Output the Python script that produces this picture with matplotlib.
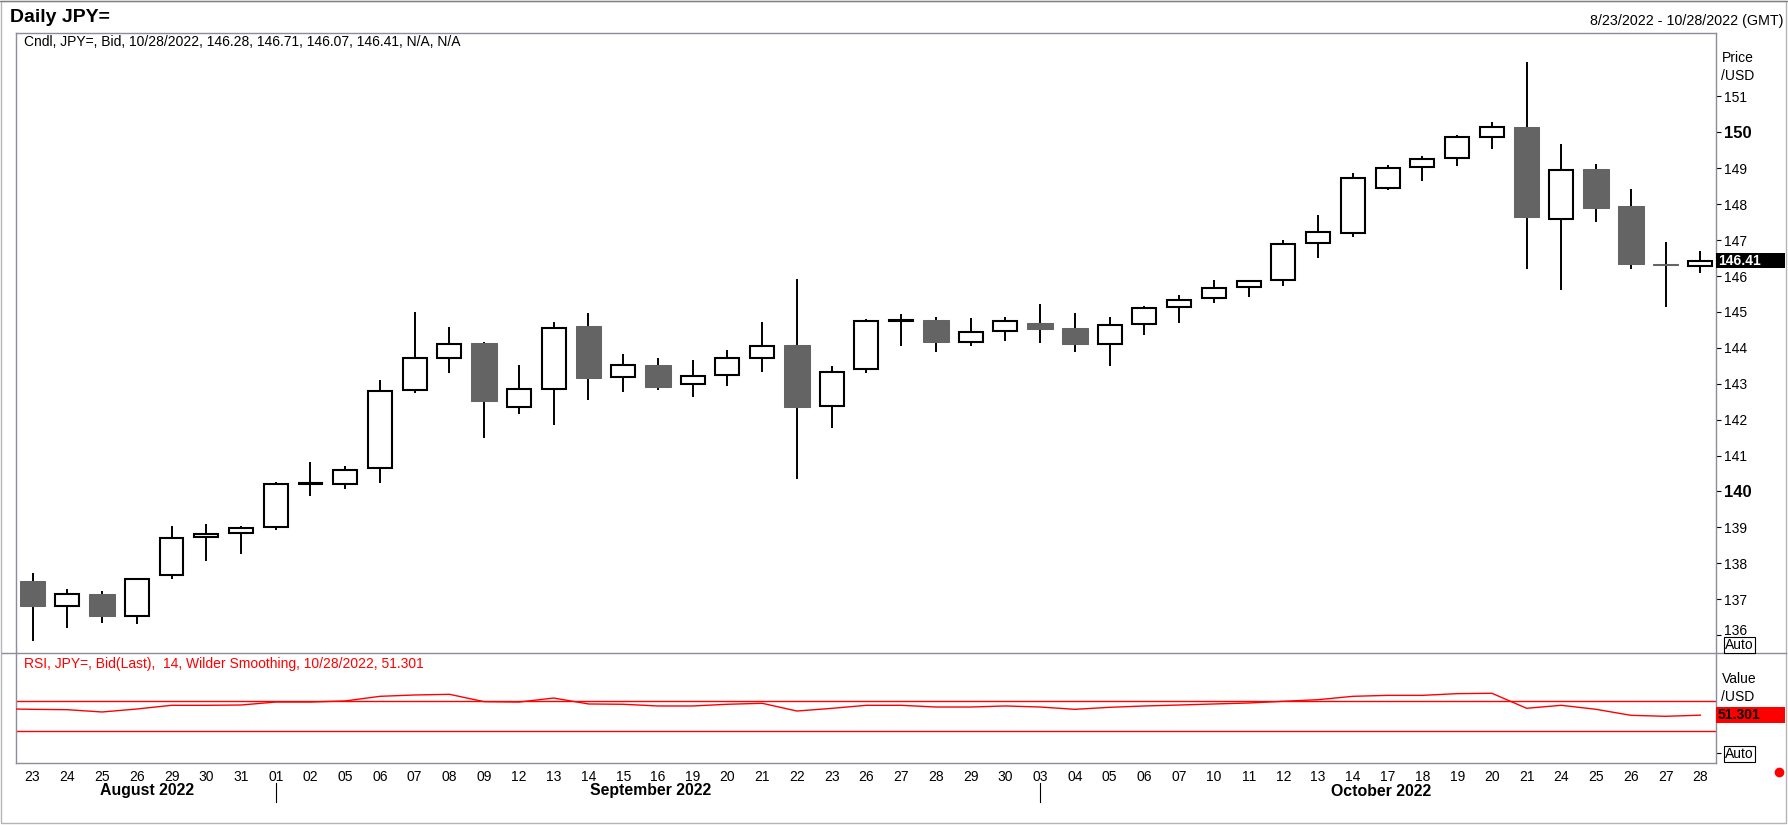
import matplotlib
matplotlib.use('Agg')
import matplotlib.pyplot as plt
from matplotlib.transforms import blended_transform_factory, ScaledTranslation
from matplotlib.lines import Line2D
from matplotlib.patches import Rectangle

plt.rcParams['font.family'] = ['Liberation Sans', 'DejaVu Sans']

W, H = 1788, 825

# ---------------- data ----------------
days = ['23', '24', '25', '26', '29', '30', '31', '01', '02', '05', '06', '07', '08', '09',
        '12', '13', '14', '15', '16', '19', '20', '21', '22', '23', '26', '27', '28', '29',
        '30', '03', '04', '05', '06', '07', '10', '11', '12', '13', '14', '17', '18', '19',
        '20', '21', '24', '25', '26', '27', '28']
months = ['August 2022'] * 7 + ['September 2022'] * 22 + ['October 2022'] * 20

opens = [137.50, 136.80, 137.14, 136.53, 137.66, 138.72, 138.84, 139.00, 140.20, 140.20,
         140.65, 142.82, 143.73, 144.13, 142.35, 142.85, 144.60, 143.18, 143.52, 142.98,
         143.23, 143.73, 144.08, 142.38, 143.41, 144.75, 144.77, 144.15, 144.47, 144.68,
         144.55, 144.12, 144.66, 145.13, 145.38, 145.69, 145.89, 146.91, 147.20, 148.44,
         149.03, 149.28, 149.88, 150.15, 147.58, 148.97, 147.94, 146.33, 146.28]
highs = [137.74, 137.27, 137.24, 137.59, 139.03, 139.09, 139.03, 140.26, 140.82, 140.70,
         143.10, 145.00, 144.58, 144.16, 143.52, 144.72, 144.97, 143.82, 143.71, 143.66,
         143.94, 144.72, 145.91, 143.49, 144.79, 144.93, 144.87, 144.82, 144.85, 145.22,
         144.97, 144.85, 145.16, 145.46, 145.89, 145.90, 147.00, 147.70, 148.86, 149.09,
         149.34, 149.92, 150.28, 151.96, 149.69, 149.12, 148.42, 146.94, 146.71]
lows = [135.84, 136.20, 136.34, 136.31, 137.57, 138.07, 138.25, 138.92, 139.88, 140.07,
        140.24, 142.73, 143.30, 141.49, 142.16, 141.86, 142.55, 142.77, 142.83, 142.64,
        142.94, 143.33, 140.35, 141.77, 143.29, 144.06, 143.89, 144.06, 144.20, 144.14,
        143.89, 143.50, 144.37, 144.70, 145.24, 145.42, 145.73, 146.49, 147.09, 148.39,
        148.65, 149.07, 149.54, 146.20, 145.62, 147.51, 146.20, 145.13, 146.07]
closes = [136.81, 137.15, 136.53, 137.55, 138.71, 138.82, 138.99, 140.22, 140.23, 140.60,
          142.80, 143.72, 144.11, 142.52, 142.84, 144.56, 143.16, 143.53, 142.91, 143.22,
          143.72, 144.06, 142.36, 143.33, 144.75, 144.78, 144.17, 144.45, 144.75, 144.53,
          144.11, 144.64, 145.11, 145.34, 145.67, 145.87, 146.90, 147.23, 148.74, 149.01,
          149.26, 149.88, 150.14, 147.65, 148.96, 147.90, 146.34, 146.30, 146.41]

rsi_prev = 60.0  # value on the session before the first visible day
rsi = [59.2, 58.7, 55.6, 59.6, 64.6, 64.6, 65.0, 69.0, 69.0, 70.5, 76.7, 78.5, 79.4,
       69.5, 69.0, 74.4, 66.4, 66.0, 63.7, 63.7, 66.0, 67.3, 56.9, 60.5, 64.6, 64.6,
       62.3, 62.3, 63.7, 62.3, 59.2, 61.9, 63.7, 65.0, 66.4, 67.7, 70.0, 72.2, 76.7,
       78.0, 78.0, 80.3, 80.8, 60.6, 64.6, 59.2, 51.1, 49.8, 51.301]
rsi_levels = [70, 30]

price_ticks = list(range(136, 152))
bold_ticks = [140, 150]

title = 'Daily JPY='
date_range = '8/23/2022 - 10/28/2022 (GMT)'
header = 'Cndl, JPY=, Bid, 10/28/2022, 146.28, 146.71, 146.07, 146.41, N/A, N/A'
rsi_header = 'RSI, JPY=, Bid(Last),  14, Wilder Smoothing, 10/28/2022, 51.301'

# ---------------- layout helpers ----------------
def fx(px):
    return px / W

def fy(py):
    return 1 - py / H

FRAME = '#8c8c9a'
DARK = '#646464'
RED = '#ff0000'

fig = plt.figure(figsize=(W / 100, H / 100), dpi=100)
fig.patch.set_facecolor('white')

L, R = 15.5, 1716
T_MAIN, B_MAIN, B_RSI = 33.3, 653, 763

ax = fig.add_axes([fx(L), fy(B_MAIN), fx(R) - fx(L), fy(T_MAIN) - fy(B_MAIN)])
ax2 = fig.add_axes([fx(L), fy(B_RSI), fx(R) - fx(L), fy(B_MAIN) - fy(B_RSI)], sharex=ax)

x = list(range(len(days)))

# ---------------- candles ----------------
ax.vlines(x, lows, highs, color='black', linewidth=1.4, zorder=2)
ux = [i for i in x if closes[i] >= opens[i]]
dx = [i for i in x if closes[i] < opens[i]]
ax.bar(ux, [closes[i] - opens[i] for i in ux], bottom=[opens[i] for i in ux],
       width=0.69, color='white', edgecolor='black', linewidth=1.5, zorder=3)
ax.bar(dx, [opens[i] - closes[i] for i in dx], bottom=[closes[i] for i in dx],
       width=0.74, color=DARK, edgecolor=DARK, linewidth=0.75, zorder=3)

ax.set_xlim(-0.49, 48.45)
ax.set_ylim(135.50, 152.76)

ax.yaxis.tick_right()
ax.set_yticks(price_ticks)
ax.set_yticklabels([str(t) for t in price_ticks])
ax.tick_params(axis='y', direction='out', length=3.6, width=0.8, pad=2,
               labelsize=10, colors='black')
for lab, t in zip(ax.get_yticklabels(), price_ticks):
    if t in bold_ticks:
        lab.set_fontweight('bold')
        lab.set_fontsize(12)
    if t == price_ticks[0]:
        # lowest label is nudged up to clear the "Auto" box, as in the original
        lab.set_transform(lab.get_transform() + ScaledTranslation(0, 6 / 100, fig.dpi_scale_trans))
ax.tick_params(axis='x', bottom=False, labelbottom=False)

for s in ['top', 'left', 'right']:
    ax.spines[s].set_color(FRAME)
    ax.spines[s].set_linewidth(1.0)
ax.spines['bottom'].set_visible(False)

# last price marker
last = closes[-1]
bx = blended_transform_factory(fig.transFigure, ax.transData)
ax.add_patch(Rectangle((fx(R), last - 0.19), fx(1785) - fx(R), 0.42, transform=bx,
                       facecolor='black', edgecolor='none', clip_on=False, zorder=5))
ax.text(fx(R + 2), last, f'{last:.2f}', color='white', fontweight='bold',
        fontsize=10, ha='left', va='center', transform=bx, zorder=6)

# ---------------- RSI ----------------
ax2.plot([-1] + x, [rsi_prev] + rsi, color=RED, linewidth=1.0, zorder=3)
for lv in rsi_levels:
    ax2.axhline(lv, color=RED, linewidth=1.0, zorder=2)
ax2.set_ylim(-13.1, 135.05)
ax2.yaxis.tick_right()
ax2.set_yticks([0])
ax2.set_yticklabels([''])
ax2.tick_params(axis='y', direction='out', length=3.6, width=0.8)

ax2.set_xticks(x)
ax2.set_xticklabels(days)
ax2.tick_params(axis='x', length=0, pad=5, labelsize=10, colors='black')
for s in ['bottom', 'left', 'right']:
    ax2.spines[s].set_color(FRAME)
    ax2.spines[s].set_linewidth(1.0)
ax2.spines['top'].set_visible(False)

lr = rsi[-1]
bx2 = blended_transform_factory(fig.transFigure, ax2.transData)
ax2.add_patch(Rectangle((fx(R), lr - 10.5), fx(1785) - fx(R), 21.5, transform=bx2,
                        facecolor=RED, edgecolor='none', clip_on=False, zorder=5))
ax2.text(fx(R + 2), lr, f'{lr:.3f}', color='black', fontweight='bold',
         fontsize=10, ha='left', va='center', transform=bx2, zorder=6)

# month labels and separators
btf = blended_transform_factory(ax2.transData, fig.transFigure)
seen = []
for m in months:
    if m not in seen:
        seen.append(m)
for k, m in enumerate(seen):
    idx = [i for i in x if months[i] == m]
    ax2.text(sum(idx) / len(idx) + 0.3, fy(791), m, transform=btf, ha='center', va='center',
             fontsize=11.4, fontweight='bold', clip_on=False)
    if k > 0:
        fig.add_artist(Line2D([idx[0], idx[0]], [fy(783), fy(802)], transform=btf,
                              color='black', linewidth=0.8))

# ---------------- frame / text ----------------
fig.add_artist(Line2D([fx(2), fx(1786)], [fy(B_MAIN), fy(B_MAIN)], transform=fig.transFigure,
                      color=FRAME, linewidth=1.0))
fig.add_artist(Rectangle((fx(1), fy(822.5)), fx(1785.5) - fx(1), fy(1) - fy(822.5),
                         transform=fig.transFigure, fill=False, edgecolor='#b4b4b4',
                         linewidth=1.0))
fig.add_artist(Line2D([0, 1], [fy(1), fy(1)], transform=fig.transFigure,
                      color='#808080', linewidth=1.0))

fig.text(fx(10.5), fy(17), title, fontsize=14, fontweight='bold', ha='left', va='center')
fig.text(fx(1783), fy(21), date_range, fontsize=10.3, ha='right', va='center')
fig.text(fx(23.5), fy(42.5), header, fontsize=10, ha='left', va='center')
fig.text(fx(23.5), fy(664), rsi_header, fontsize=10, ha='left', va='center', color=RED)

fig.text(fx(1722), fy(58), 'Price', fontsize=10, ha='left', va='center')
fig.text(fx(1721), fy(76), '/USD', fontsize=10, ha='left', va='center')
fig.text(fx(1722), fy(679), 'Value', fontsize=10, ha='left', va='center')
fig.text(fx(1721), fy(697), '/USD', fontsize=10, ha='left', va='center')

for yc in (645, 754):
    fig.text(fx(1725), fy(yc), 'Auto', fontsize=10, ha='left', va='center',
             bbox=dict(boxstyle='square,pad=0.1', facecolor='white', edgecolor='black',
                       linewidth=0.8))

fig.add_artist(Line2D([fx(1779)], [fy(772)], transform=fig.transFigure, marker='o',
                      markersize=7, color=RED, markeredgecolor='none', linestyle='none'))

fig.savefig('out.png', dpi=100)
